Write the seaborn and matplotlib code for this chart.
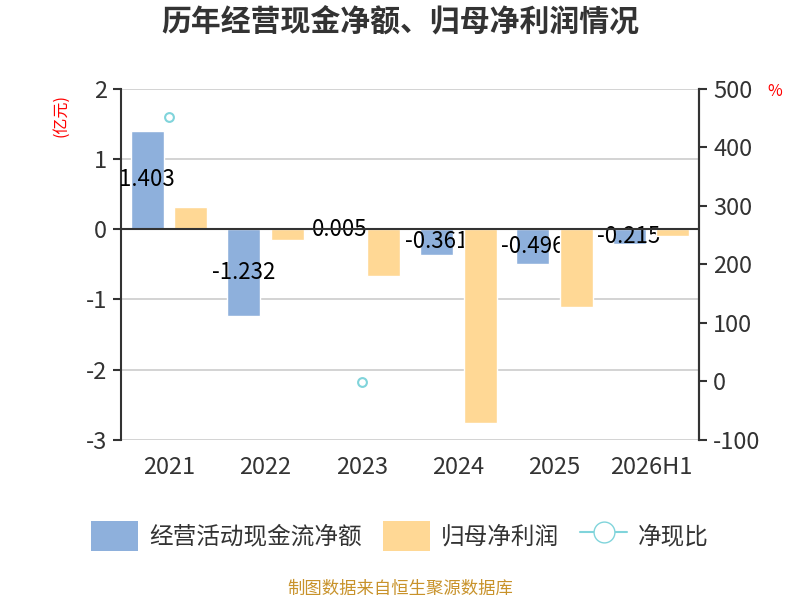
import pandas as pd
import matplotlib.pyplot as plt
import matplotlib.patches as mpatches
import matplotlib.lines as mlines
import seaborn as sns

years = ['2021', '2022', '2023', '2024', '2025', '2026H1']
cash_flow = [1.403, -1.232, 0.005, -0.361, -0.496, -0.215]
net_profit = [0.31, -0.16, -0.67, -2.76, -1.11, -0.09]
ratio = [452, None, -2, None, None, None]

name_cf = '经营活动现金流净额'
name_np = '归母净利润'
name_ratio = '净现比'

blue = '#8eb0dc'
orange = '#ffd895'
teal = '#80d4db'
dark = '#333333'

sns.set_theme(style='white')
plt.rcParams['font.family'] = ['Noto Sans CJK SC', 'DejaVu Sans']
plt.rcParams['axes.unicode_minus'] = False

df = pd.DataFrame({
    'year': years * 2,
    'value': cash_flow + net_profit,
    'series': [name_cf] * len(years) + [name_np] * len(years),
})
ratio_df = pd.DataFrame({'year': years, 'ratio': ratio}).dropna()

fig = plt.figure(figsize=(8, 6), dpi=100)
ax = fig.add_axes([0.151, 0.267, 0.723, 0.585])

sns.barplot(data=df, x='year', y='value', hue='series', order=years,
            palette=[blue, orange], width=0.91, gap=0.25, saturation=1,
            legend=False, ax=ax, zorder=2)

# labels sit above blue bars but under the orange ones
ax.bar_label(ax.containers[0], labels=[f'{v:.3f}' for v in cash_flow],
             label_type='center', fontsize=16, color='black', zorder=3)
for p in ax.containers[1]:
    p.set_zorder(4)

ax.set_ylim(-3, 2)
ax.set_yticks([-3, -2, -1, 0, 1, 2])
ax.set_xlim(-0.5, len(years) - 0.5)
ax.yaxis.grid(True, color='#cccccc', linewidth=1.2, zorder=0)
ax.set_axisbelow(True)
ax.axhline(0, color=dark, linewidth=1.5, zorder=5)
ax.set_xlabel('')
ax.set_ylabel('')
for s in ['top', 'bottom']:
    ax.spines[s].set_visible(False)
for s in ['left', 'right']:
    ax.spines[s].set_color(dark)
    ax.spines[s].set_linewidth(1.5)
ax.tick_params(axis='y', left=True, length=6, width=1.5, color=dark,
               labelsize=17, labelcolor=dark, pad=4)
ax.tick_params(axis='x', bottom=False, labelsize=17, labelcolor=dark, pad=6)

ax2 = ax.twinx()
sns.scatterplot(data=ratio_df, x='year', y='ratio', ax=ax2, marker='o', s=40,
                facecolor='white', edgecolor=teal, linewidth=1.5, zorder=6)
ax2.set_ylim(-100, 500)
ax2.set_yticks([-100, 0, 100, 200, 300, 400, 500])
ax2.set_ylabel('')
ax2.set_xlim(-0.5, len(years) - 0.5)
for s in ['top', 'bottom', 'left']:
    ax2.spines[s].set_visible(False)
ax2.spines['right'].set_color(dark)
ax2.spines['right'].set_linewidth(1.5)
ax2.tick_params(axis='y', right=True, length=6, width=1.5, color=dark,
                labelsize=17, labelcolor=dark, pad=4)

fig.text(0.5, 0.962, '历年经营现金净额、归母净利润情况', ha='center', va='center',
         fontsize=21.5, fontweight='bold', color=dark)
fig.text(0.076, 0.808, '(亿元)', rotation=90, ha='center', va='center',
         fontsize=11.5, color='red')
fig.text(0.968, 0.848, '%', ha='center', va='center', fontsize=11.5, color='red')
fig.text(0.5, 0.018, '制图数据来自恒生聚源数据库', ha='center', va='center',
         fontsize=12.5, color='#c8922a')

handles = [
    mpatches.FancyBboxPatch((0, 0), 1, 1, boxstyle='round,pad=0.15',
                            facecolor=blue, edgecolor='none', label=name_cf),
    mpatches.FancyBboxPatch((0, 0), 1, 1, boxstyle='round,pad=0.15',
                            facecolor=orange, edgecolor='none', label=name_np),
    mlines.Line2D([], [], color=teal, marker='o', markersize=15,
                  markerfacecolor='white', markeredgecolor=teal,
                  linewidth=1.5, label=name_ratio),
]
fig.legend(handles=handles, loc='center', bbox_to_anchor=(0.5, 0.107), ncol=3,
           frameon=False, fontsize=17, handlelength=2.0, handleheight=1.6,
           columnspacing=0.9, handletextpad=0.45, labelcolor=dark)

fig.savefig('out.png', dpi=100)
